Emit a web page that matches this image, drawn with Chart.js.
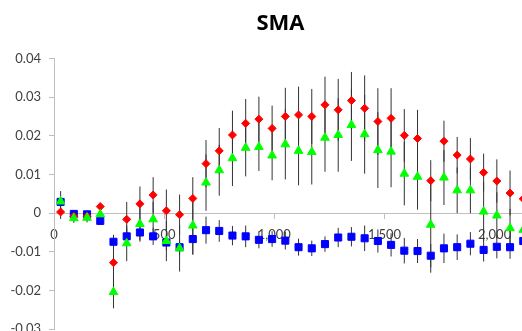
<!DOCTYPE html>
<html>
<head>
<meta charset="utf-8">
<script src="https://cdn.jsdelivr.net/npm/chart.js@4.4.1/dist/chart.umd.min.js"></script>
<style>
  html, body { margin: 0; padding: 0; background: #fff; }
  #wrap { width: 522px; height: 331px; overflow: hidden; position: relative; }
  canvas { display: block; }
</style>
</head>
<body>
<div id="wrap"><canvas id="sma" width="561" height="345"></canvas></div>
<script>
/* SMA scatter with error bars */
const xVals = [30, 90, 150, 210, 270, 330, 390, 450, 510, 570, 630, 690, 750, 810, 870, 930, 990, 1050,
  1110, 1170, 1230, 1290, 1350, 1410, 1470, 1530, 1590, 1650, 1710, 1770, 1830, 1890, 1950, 2010, 2070, 2130];

const redVals = [0.0003, -0.0008, -0.0008, 0.0017, -0.0128, -0.0016, 0.0024, 0.0047, 0.0006, -0.0004, 0.0038, 0.0128,
  0.0161, 0.0202, 0.0232, 0.0243, 0.0219, 0.0250, 0.0254, 0.0250, 0.0280, 0.0267, 0.0291, 0.0271,
  0.0237, 0.0245, 0.0201, 0.0193, 0.0084, 0.0186, 0.0150, 0.0140, 0.0105, 0.0083, 0.0052, 0.0037];
const redErr = [0.0018, 0.0012, 0.0012, 0.0009, 0.0072, 0.0045, 0.0045, 0.0046, 0.0055, 0.0052, 0.0055, 0.0061,
  0.0059, 0.0063, 0.0063, 0.0058, 0.0059, 0.0074, 0.0073, 0.0071, 0.0073, 0.0080, 0.0074, 0.0085,
  0.0086, 0.0078, 0.0068, 0.0074, 0.0053, 0.0053, 0.0047, 0.0054, 0.0049, 0.0056, 0.0058, 0.0050];

const greenVals = [0.0030, -0.0013, -0.0012, -0.0003, -0.0204, -0.0078, -0.0028, -0.0016, -0.0072, -0.0091, -0.0032, 0.0079,
  0.0111, 0.0142, 0.0169, 0.0171, 0.0149, 0.0178, 0.0161, 0.0158, 0.0195, 0.0202, 0.0228, 0.0204,
  0.0163, 0.0159, 0.0102, 0.0094, -0.0030, 0.0092, 0.0059, 0.0059, 0.0004, -0.0006, -0.0039, -0.0043];
const greenErr = [0.0027, 0.0012, 0.0012, 0.0010, 0.0042, 0.0046, 0.0046, 0.0045, 0.0052, 0.0060, 0.0075, 0.0073,
  0.0066, 0.0072, 0.0074, 0.0062, 0.0064, 0.0091, 0.0089, 0.0084, 0.0088, 0.0095, 0.0093, 0.0102,
  0.0098, 0.0092, 0.0082, 0.0085, 0.0124, 0.0071, 0.0059, 0.0059, 0.0076, 0.0060, 0.0050, 0.0050];

const blueVals = [0.0029, -0.0002, -0.0003, -0.0020, -0.0074, -0.0060, -0.0050, -0.0060, -0.0076, -0.0088, -0.0067, -0.0044,
  -0.0046, -0.0058, -0.0060, -0.0069, -0.0067, -0.0071, -0.0088, -0.0091, -0.0080, -0.0063, -0.0061, -0.0065,
  -0.0072, -0.0082, -0.0097, -0.0098, -0.0110, -0.0091, -0.0088, -0.0079, -0.0095, -0.0087, -0.0088, -0.0072];
const blueErr = [0.0010, 0.0008, 0.0008, 0.0010, 0.0015, 0.0020, 0.0020, 0.0022, 0.0020, 0.0020, 0.0040, 0.0035,
  0.0028, 0.0025, 0.0028, 0.0022, 0.0020, 0.0023, 0.0022, 0.0020, 0.0020, 0.0025, 0.0025, 0.0033,
  0.0030, 0.0030, 0.0033, 0.0031, 0.0030, 0.0038, 0.0033, 0.0030, 0.0030, 0.0030, 0.0030, 0.0030];

const xTicks = [0, 500, 1000, 1500, 2000];
const yMin = -0.03, yMax = 0.04, yStep = 0.01;

const toPts = vals => vals.map((v, i) => ({ x: xVals[i], y: v }));

// vertical error bars, drawn under the markers
const errorBars = {
  id: 'errorBars',
  beforeDatasetsDraw(chart) {
    const { ctx, chartArea, scales: { x, y } } = chart;
    const sets = [[redVals, redErr], [greenVals, greenErr], [blueVals, blueErr]];
    ctx.save();
    ctx.beginPath();
    ctx.rect(chartArea.left, chartArea.top, chartArea.right - chartArea.left, chartArea.bottom - chartArea.top);
    ctx.clip();
    ctx.strokeStyle = '#333';
    ctx.lineWidth = 1;
    sets.forEach(([vals, errs]) => {
      vals.forEach((v, i) => {
        const px = x.getPixelForValue(xVals[i]);
        ctx.beginPath();
        ctx.moveTo(px, y.getPixelForValue(v + errs[i]));
        ctx.lineTo(px, y.getPixelForValue(v - errs[i]));
        ctx.stroke();
      });
    });
    ctx.restore();
  }
};

const tickFont = { family: 'Lato', size: 13 };
const axisGray = '#bfbfbf';

new Chart(document.getElementById('sma'), {
  type: 'scatter',
  data: {
    datasets: [
      { label: 'green', data: toPts(greenVals), order: 0, pointStyle: 'triangle', pointRadius: 5,
        backgroundColor: '#00ff00', borderColor: '#00ff00', borderWidth: 1 },
      { label: 'red', data: toPts(redVals), order: 1, pointStyle: 'rectRot', pointRadius: 4,
        backgroundColor: '#ff0000', borderColor: '#ff0000', borderWidth: 1 },
      { label: 'blue', data: toPts(blueVals), order: 2, pointStyle: 'rect', pointRadius: 5,
        backgroundColor: '#0000ff', borderColor: '#0000ff', borderWidth: 1 }
    ]
  },
  options: {
    responsive: false,
    animation: false,
    layout: { padding: 0 },
    plugins: {
      legend: { display: false },
      tooltip: { enabled: false },
      title: {
        display: true, text: 'SMA', color: '#000',
        font: { family: 'Open Sans', size: 22, weight: 'bold' },
        padding: { top: 11, bottom: 21 }
      }
    },
    scales: {
      x: {
        type: 'linear', min: 0, max: 2274,
        position: { y: 0 },
        afterBuildTicks: s => { s.ticks = xTicks.map(v => ({ value: v })); },
        grid: { drawOnChartArea: false, drawTicks: true, tickLength: 5, color: axisGray },
        border: { color: axisGray },
        ticks: { font: tickFont, color: '#404040', padding: 9, maxRotation: 0 }
      },
      y: {
        min: yMin, max: yMax,
        afterFit: s => { s.width = 54; },
        grid: { drawOnChartArea: false, drawTicks: true, tickLength: 5, color: axisGray },
        border: { color: axisGray },
        ticks: {
          stepSize: yStep, font: tickFont, color: '#404040', padding: 8,
          callback: v => (Math.round(v * 100) / 100).toString()
        }
      }
    }
  },
  plugins: [errorBars]
});
</script>
</body>
</html>
